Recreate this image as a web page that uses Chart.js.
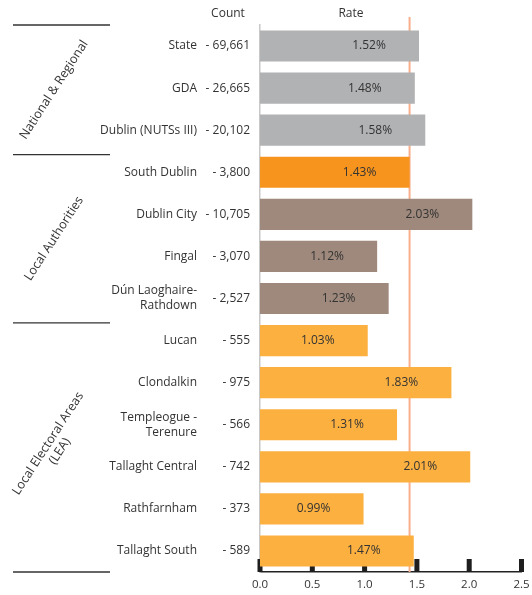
<!DOCTYPE html>
<html><head><meta charset="utf-8">
<script src="https://cdn.jsdelivr.net/npm/chart.js@4/dist/chart.umd.min.js"></script>
<style>html,body{margin:0;padding:0;background:#fff}</style>
</head><body>
<canvas id="c" width="532" height="595"></canvas>
<script>
const categories = [["State"],["GDA"],["Dublin (NUTSs III)"],["South Dublin"],["Dublin City"],["Fingal"],["Dún Laoghaire-","Rathdown"],["Lucan"],["Clondalkin"],["Templeogue -","Terenure"],["Tallaght Central"],["Rathfarnham"],["Tallaght South"]];
const counts = ["69,661","26,665","20,102","3,800","10,705","3,070","2,527","555","975","566","742","373","589"];
const rates = [1.52,1.48,1.58,1.43,2.03,1.12,1.23,1.03,1.83,1.31,2.01,0.99,1.47];
const groupLabels = [["National & Regional"],["Local Authorities"],["Local Electoral Areas","(LEA)"]];
const groupStarts = [0,3,7];
const groupEnds = [2,6,12];
const referenceRate = 1.43;
const headers = ["Count","Rate"];

const FONT = "'Open Sans', sans-serif";
const TXT = '#333333';
const barColors = rates.map((v,i)=> i<=2 ? '#b1b2b4' : i===3 ? '#f7941d' : i<=6 ? '#9e897c' : '#fbb040');

const deco = {
  id:'deco',
  beforeDatasetsDraw(chart){
    const {ctx, chartArea:a, scales:{x}} = chart;
    ctx.save();
    const rx = x.getPixelForValue(referenceRate);
    ctx.strokeStyle = '#f8ae8a'; ctx.lineWidth = 2;
    ctx.beginPath(); ctx.moveTo(rx, 17); ctx.lineTo(rx, a.bottom); ctx.stroke();
    ctx.fillStyle = '#1e1e1e';
    x.ticks.forEach(t=>{
      const px = x.getPixelForValue(t.value);
      ctx.fillRect(px-2.5, a.bottom-13, 5, 13);
    });
    ctx.restore();
  },
  afterDatasetsDraw(chart){
    const {ctx, chartArea:a, scales:{x,y}} = chart;
    ctx.save();
    ctx.fillStyle = TXT;
    ctx.font = "12px " + FONT;
    ctx.textBaseline = 'middle';
    ctx.textAlign = 'center';
    const meta = chart.getDatasetMeta(0);
    meta.data.forEach((bar,i)=>{
      ctx.fillText(rates[i].toFixed(2)+'%', bar.x - 50, bar.y);
    });
    ctx.textAlign = 'right';
    counts.forEach((c,i)=>{
      ctx.fillText('- '+c, 250, y.getPixelForValue(i));
    });
    ctx.textAlign = 'center';
    ctx.fillText(headers[0], 228, 14);
    ctx.fillText(headers[1], 351, 14);
    const step = y.getPixelForValue(1) - y.getPixelForValue(0);
    ctx.strokeStyle = '#333'; ctx.lineWidth = 1.3;
    const bounds = [y.getPixelForValue(0)-step/2];
    groupEnds.forEach(e=>bounds.push(y.getPixelForValue(e)+step*0.58));
    bounds[bounds.length-1] = a.bottom;
    bounds.forEach(b=>{
      ctx.beginPath(); ctx.moveTo(13, b); ctx.lineTo(110, b); ctx.stroke();
    });
    groupLabels.forEach((lines,g)=>{
      const cy = (bounds[g]+bounds[g+1])/2;
      ctx.save();
      ctx.translate(54, cy);
      ctx.rotate(-57*Math.PI/180);
      ctx.textAlign = 'center';
      ctx.font = "12.5px " + FONT;
      const lh = 14;
      lines.forEach((ln,k)=>{
        ctx.fillText(ln, 0, (k-(lines.length-1)/2)*lh);
      });
      ctx.restore();
    });
    ctx.restore();
  }
};

new Chart(document.getElementById('c'), {
  type:'bar',
  data:{labels:categories, datasets:[{data:rates, backgroundColor:barColors, categoryPercentage:0.74, barPercentage:1}]},
  options:{
    indexAxis:'y', responsive:false, animation:false,
    layout:{padding:{top:25,right:10.5,left:0,bottom:0}},
    plugins:{legend:{display:false}, tooltip:{enabled:false}},
    scales:{
      x:{min:0,max:2.5,
        ticks:{stepSize:0.5, callback:v=>Number(v).toFixed(1), font:{family:FONT,size:11.5}, color:TXT, padding:6, maxRotation:0},
        grid:{display:false, drawTicks:false},
        border:{color:'#222', width:1.5},
        afterFit(s){s.height=23; s.paddingRight=0; s.paddingLeft=0;}},
      y:{
        ticks:{font:{family:FONT,size:12,lineHeight:1.25}, color:TXT, padding:0, crossAlign:'near'},
        grid:{display:false, drawTicks:true, tickLength:63},
        border:{color:'#c8c8c8', width:1.5},
        afterFit(s){s.width=260; s.paddingTop=0; s.paddingBottom=0;}}
    }
  },
  plugins:[deco]
});
</script>
</body></html>
